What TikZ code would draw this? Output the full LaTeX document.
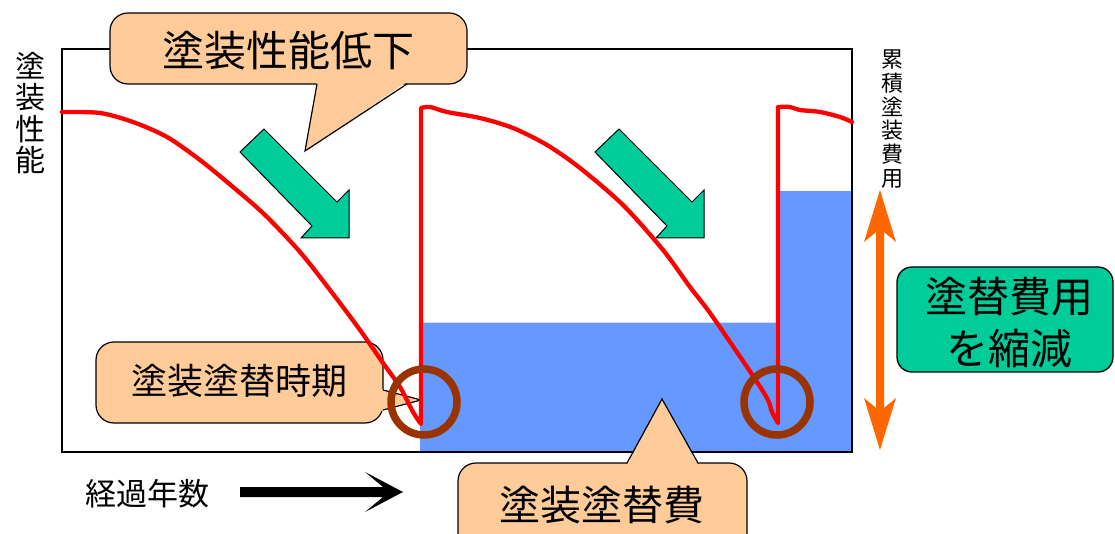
\documentclass[tikz,border=0pt]{standalone}
\usepackage{fontspec}
\newfontfamily\jp{Noto Sans CJK JP}
\definecolor{peach}{HTML}{FFCC99}
\definecolor{blu}{HTML}{6699FF}
\definecolor{grn}{HTML}{00CC99}
\definecolor{org}{HTML}{FF6600}
\definecolor{brn}{HTML}{993300}
\tikzset{
  callbox/.style={fill=peach, draw=black, line width=1.2pt, rounded corners=18pt},
  calledge/.style={draw=black, line width=1.2pt, line join=miter},
  garrow/.style={fill=grn, draw=black, line width=1pt, line join=miter},
  redline/.style={draw=red, line width=4.3pt, line join=round, line cap=round},
  ring/.style={draw=brn, line width=7.5pt},
  lbl/.style={inner sep=0pt, text=black},
}
\begin{document}
\begin{tikzpicture}[x=1pt,y=-1pt]
\useasboundingbox (0,0) rectangle (1115,534);
\clip (0,0) rectangle (1115,534);
% blue cost areas
\fill[blu] (420,323) rectangle (852,453);
\fill[blu] (780,191) rectangle (852,453);
\draw[blue!15, line width=1pt] (420,322.5) -- (780,322.5);
% frame
\draw[line width=1.3pt] (62,49) rectangle (852,452);
% green arrows
\draw[garrow] (240,152) -- (264,129) -- (337,202) -- (349,190) -- (349,238) -- (301,238) -- (312,226) -- cycle;
\draw[garrow] (595,152) -- (619,129) -- (692,202) -- (704,190) -- (704,238) -- (656,238) -- (667,226) -- cycle;
% callout: repaint time
\draw[callbox] (96,342) rectangle (383,423);
\fill[peach] (381,389) -- (421,400) -- (381,411) -- cycle;
\draw[calledge] (383,390) -- (421,400) -- (383,410);
\node[lbl, font=\jp\fontsize{36}{40}\selectfont] (tjiki) at (239,381) {塗装塗替時期};
% performance curve
\draw[redline] plot[smooth, tension=0.5] coordinates {(62,112) (100,113) (133,122) (167,137) (200,160) (233,187) (265,215) (300,252) (330,290) (360,330) (383,363) (400,387) (413,412) (421,424)}
  -- (421,108)
  -- plot[smooth, tension=0.5] coordinates {(421,108) (430,107) (447,112) (480,118) (513,128) (547,145) (580,168) (623,205) (663,250) (690,287) (710,313) (747,367) (767,398) (772,412) (778,423)}
  -- (778,107)
  -- plot[smooth, tension=0.5] coordinates {(778,107) (790,107) (800,110) (820,112) (840,117) (852,122)};
% rings
\draw[ring] (424,402) circle[radius=33];
\draw[ring] (777,402) circle[radius=33];
% callout: performance drop
\draw[callbox] (110,13) rectangle (467,84);
\fill[peach] (317,82) -- (305,151) -- (407,82) -- cycle;
\draw[calledge] (317,84) -- (305,151) -- (407,84);
\node[lbl, font=\jp\fontsize{42}{46}\selectfont] (tdrop) at (288,51) {塗装性能低下};
% callout: repaint cost
\draw[callbox] (458,463) rectangle (747,560);
\fill[peach] (627,465) -- (662,399) -- (698,465) -- cycle;
\draw[calledge] (627,463) -- (662,399) -- (698,463);
\node[lbl, font=\jp\fontsize{41}{45}\selectfont] (tcost) at (602,505) {塗装塗替費};
% green box
\draw[fill=grn, draw=black, line width=1.3pt, rounded corners=15pt] (897,267) rectangle (1113,372);
\node[lbl, align=center, font=\jp\fontsize{42}{52}\selectfont] (treduce) at (1009,323) {塗替費用\\を縮減};
% orange double arrow
\fill[org] (880,190) -- (896,242) -- (884,232) -- (884,408) -- (896,398) -- (880,450) -- (864,398) -- (876,408) -- (876,232) -- (864,242) -- cycle;
% black arrow
\fill[black] (240,487) -- (383,487) -- (365,472) -- (403,492) -- (365,512) -- (383,497) -- (240,497) -- cycle;
% axis labels
\node[lbl, align=center, font=\jp\fontsize{30}{31.5}\selectfont] (tperf) at (30,113) {塗\\装\\性\\能};
\node[lbl, align=center, font=\jp\fontsize{22}{23.7}\selectfont] (tcum) at (892,119) {累\\積\\塗\\装\\費\\用};
\node[lbl, font=\jp\fontsize{31}{34}\selectfont] (tyears) at (147,494) {経過年数};
\end{tikzpicture}
\end{document}
